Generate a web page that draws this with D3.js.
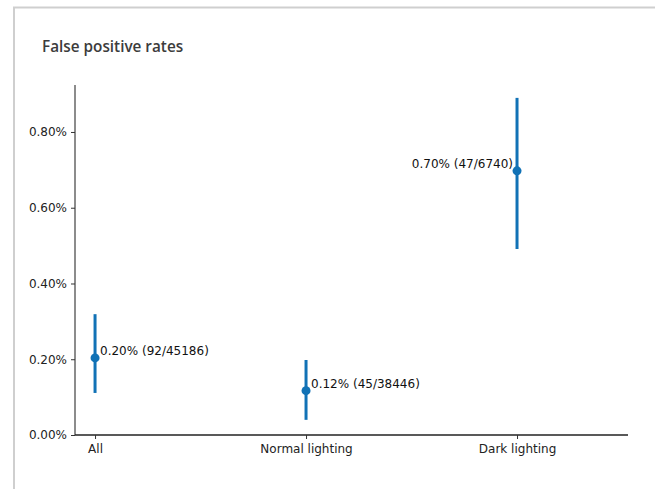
<!DOCTYPE html>
<html>
<head>
<meta charset="utf-8">
<script src="https://cdn.jsdelivr.net/npm/d3@7"></script>
<style>
  body { margin: 0; background: #fff; }
  svg { display: block; }
</style>
</head>
<body>
<script>
// data (percent)
var categories = ["All", "Normal lighting", "Dark lighting"];
var rates = [0.2036, 0.1170, 0.6973];
var lower = [0.111, 0.040, 0.491];
var upper = [0.319, 0.198, 0.890];
var labels = ["0.20% (92/45186)", "0.12% (45/38446)", "0.70% (47/6740)"];
var yTicks = [0, 0.2, 0.4, 0.6, 0.8];

var W = 655, H = 489;
var margin = {top: 85, right: 27, bottom: 54, left: 75},
    width = W - margin.left - margin.right,
    height = H - margin.top - margin.bottom;

var svg = d3.select("body").append("svg")
    .attr("width", W)
    .attr("height", H);

// card border
svg.append("path")
    .attr("d", "M14,489 V7.5 H655")
    .attr("fill", "none")
    .attr("stroke", "#cfcfcf")
    .attr("stroke-width", 2);

svg.append("text")
    .attr("x", 42)
    .attr("y", 52)
    .attr("font-family", "Open Sans")
    .attr("font-weight", 600)
    .attr("font-size", 15.3)
    .attr("fill", "#3c3c3c")
    .text("False positive rates");

var g = svg.append("g")
    .attr("transform", "translate(" + margin.left + "," + margin.top + ")");

var x = d3.scaleLinear()
    .domain([-0.095, 2.526])
    .range([0, width]);
var y = d3.scaleLinear()
    .domain([0, 0.924])
    .range([height, 0]);

var yAxis = g.append("g")
    .call(d3.axisLeft(y).tickValues(yTicks).tickSize(4).tickPadding(4)
      .tickFormat(function(d) { return d.toFixed(2) + "%"; }));
yAxis.select(".domain").attr("d", "M0,0V" + height).attr("stroke", "#666").attr("stroke-width", 1.5);
yAxis.selectAll(".tick line").attr("stroke", "#333");
yAxis.selectAll("text").attr("font-family", "DejaVu Sans").attr("font-size", 12).attr("fill", "#222");

var xAxis = g.append("g")
    .attr("transform", "translate(0," + height + ")")
    .call(d3.axisBottom(x).tickValues([0, 1, 2]).tickSize(4).tickPadding(5)
      .tickFormat(function(d) { return categories[d]; }));
xAxis.select(".domain").attr("d", "M0,0H" + width).attr("stroke", "#222").attr("stroke-width", 1.5);
xAxis.selectAll(".tick line").attr("stroke", "#333");
xAxis.selectAll("text").attr("font-family", "DejaVu Sans").attr("font-size", 12).attr("fill", "#222");

var color = "#1172b6";

var pts = g.selectAll(".pt")
    .data(categories)
  .enter().append("g")
    .attr("class", "pt");

pts.append("line")
    .attr("x1", function(d, i) { return x(i); })
    .attr("x2", function(d, i) { return x(i); })
    .attr("y1", function(d, i) { return y(lower[i]); })
    .attr("y2", function(d, i) { return y(upper[i]); })
    .attr("stroke", color)
    .attr("stroke-width", 3);

pts.append("circle")
    .attr("cx", function(d, i) { return x(i); })
    .attr("cy", function(d, i) { return y(rates[i]); })
    .attr("r", 4.5)
    .attr("fill", color);

pts.append("text")
    .attr("x", function(d, i) { return i == 2 ? x(i) - 4 : x(i) + 5; })
    .attr("y", function(d, i) { return y(rates[i]) - 3; })
    .attr("text-anchor", function(d, i) { return i == 2 ? "end" : "start"; })
    .attr("font-family", "DejaVu Sans")
    .attr("font-size", 12)
    .attr("fill", "#111")
    .text(function(d, i) { return labels[i]; });
</script>
</body>
</html>
